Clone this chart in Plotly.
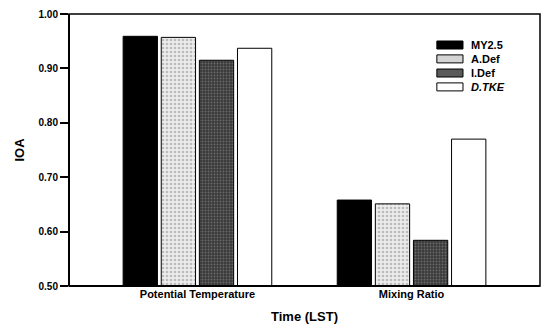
import plotly.graph_objects as go

categories = ["Potential Temperature", "Mixing Ratio"]
series_names = ["MY2.5", "A.Def", "I.Def", "D.TKE"]
legend_labels = ["MY2.5", "A.Def", "I.Def", "<i>D.TKE</i>"]
my25 = [0.959, 0.658]
adef = [0.957, 0.651]
idef = [0.915, 0.584]
dtke = [0.937, 0.770]
y_ticks = [0.50, 0.60, 0.70, 0.80, 0.90, 1.00]

x_idx = list(range(len(categories)))
series_vals = [my25, adef, idef, dtke]
styles = [
    dict(color="#000000", pattern=None, swatch="#000000"),
    dict(color="#ececec", pattern=dict(shape=".", fgcolor="#8a8a8a", size=4, solidity=0.35), swatch="#d4d4d4"),
    dict(color="#3a3a3a", pattern=dict(shape=".", fgcolor="#9a9a9a", size=3, solidity=0.3), swatch="#5a5a5a"),
    dict(color="#ffffff", pattern=None, swatch="#ffffff"),
]

FONT = "Liberation Sans, Arial, sans-serif"
fig = go.Figure()
for name, vals, st in zip(series_names, series_vals, styles):
    marker = dict(color=st["color"], line=dict(color="#000000", width=1))
    if st["pattern"]:
        marker["pattern"] = st["pattern"]
    fig.add_trace(go.Bar(
        x=x_idx, y=[v - 0.5 for v in vals], base=0.5, name=name,
        marker=marker, showlegend=False,
    ))

fig.update_layout(
    width=545, height=330,
    margin=dict(l=69, r=5, t=14, b=44),
    paper_bgcolor="white", plot_bgcolor="white",
    barmode="group", bargap=0.288, bargroupgap=0.1,
    font=dict(family=FONT, size=10, color="#000000", weight="bold"),
    showlegend=False,
    xaxis=dict(
        range=[-0.6, 1.6], tickmode="array", tickvals=x_idx, ticktext=categories,
        showgrid=False, zeroline=False, showline=False, ticks="",
        tickfont=dict(size=11, weight="bold"),
        title=dict(text="Time (LST)", font=dict(size=13, weight="bold"), standoff=12),
    ),
    yaxis=dict(
        range=[0.5, 1.0], tickmode="array", tickvals=y_ticks,
        ticktext=[f"{v:.2f}" for v in y_ticks],
        showgrid=False, zeroline=False, showline=False,
        ticks="outside", ticklen=8, tickwidth=1.5, tickcolor="#000000",
        tickfont=dict(size=10, weight="bold"),
        title=dict(text="IOA", font=dict(size=13, weight="bold"), standoff=10),
    ),
)

# frame of the plot area
fig.add_shape(type="rect", xref="paper", yref="paper", x0=0, y0=0, x1=1, y1=1,
              line=dict(color="#000000", width=1.5), layer="above")
fig.add_shape(type="line", xref="paper", yref="paper", x0=0, y0=0, x1=0, y1=1,
              line=dict(color="#000000", width=2), layer="above")
fig.add_shape(type="line", xref="paper", yref="paper", x0=0, y0=0, x1=1, y1=0,
              line=dict(color="#000000", width=2), layer="above")

# legend (compact, as in the original)
leg_y = [0.886, 0.835, 0.783, 0.732]
for lab, st, yy in zip(legend_labels, styles, leg_y):
    fig.add_shape(type="rect", xref="paper", yref="paper",
                  x0=0.781, x1=0.8365, y0=yy - 0.0147, y1=yy + 0.0147,
                  fillcolor=st["swatch"], line=dict(color="#000000", width=1))
    fig.add_annotation(xref="paper", yref="paper", x=0.849, y=yy, text=lab,
                       showarrow=False, xanchor="left", yanchor="middle",
                       font=dict(size=11, weight="bold", family=FONT))

fig.write_html("out.html")
